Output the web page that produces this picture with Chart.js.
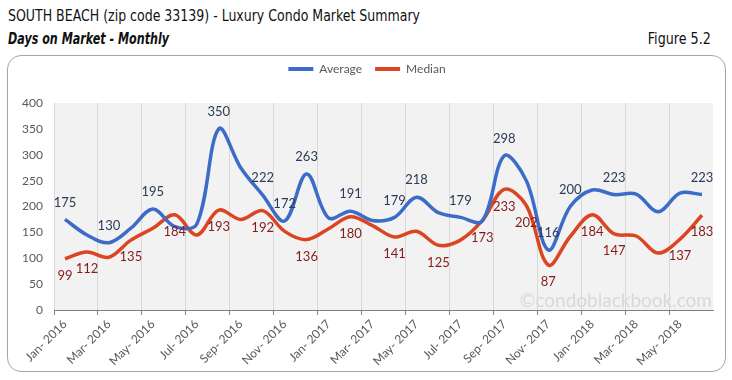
<!DOCTYPE html>
<html><head><meta charset="utf-8">
<script src="https://cdn.jsdelivr.net/npm/chart.js@4.4.0/dist/chart.umd.min.js"></script>
<style>
html,body{margin:0;padding:0;background:#fff;}
#wrap{position:relative;width:732px;height:380px;overflow:hidden;font-family:"Liberation Sans Narrow","DejaVu Sans Condensed","Liberation Sans",Arial,sans-serif;}
.tt{position:absolute;white-space:nowrap;line-height:1;color:#111;}
#t1{left:8px;top:8px;font-size:16px;transform-origin:0 0;}
#t2{left:8px;top:32px;font-size:15px;font-weight:bold;font-style:italic;transform-origin:0 0;}
#t3{right:21px;top:32px;font-size:15px;transform-origin:100% 0;}
#box{position:absolute;left:7px;top:55px;width:717px;height:315px;border:1px solid #a6a6a6;border-radius:14px;}
#c{position:absolute;left:0;top:0;width:732px;height:380px;}
</style></head>
<body><div id="wrap">
<div class="tt" id="t1">SOUTH BEACH (zip code 33139) - Luxury Condo Market Summary</div>
<div class="tt" id="t2">Days on Market - Monthly</div>
<div class="tt" id="t3">Figure 5.2</div>
<div id="box"></div>
<canvas id="c" width="732" height="380"></canvas>
</div>
<script>
// ---- data ----
const months = ['Jan- 2016','Feb- 2016','Mar- 2016','Apr- 2016','May- 2016','Jun- 2016','Jul- 2016','Aug- 2016','Sep- 2016','Oct- 2016','Nov- 2016','Dec- 2016',
  'Jan- 2017','Feb- 2017','Mar- 2017','Apr- 2017','May- 2017','Jun- 2017','Jul- 2017','Aug- 2017','Sep- 2017','Oct- 2017','Nov- 2017','Dec- 2017',
  'Jan- 2018','Feb- 2018','Mar- 2018','Apr- 2018','May- 2018','Jun- 2018'];
const averageDays = [175,145,130,158,195,161,166,350,275,222,172,263,178,191,173,179,218,188,179,172,298,250,116,200,232,223,224,190,226,223];
const medianDays  = [99,112,102,135,158,184,145,193,175,192,152,136,157,180,163,141,152,125,135,173,233,202,87,142,184,147,143,110,137,183];
const averageLabelIdx = [0,2,4,7,9,10,11,13,15,16,18,20,22,23,25,29];
const medianLabelIdx  = [0,1,3,5,7,9,11,13,15,17,19,20,21,22,24,25,28,29];
const yTicks = [0,50,100,150,200,250,300,350,400];

// fit title widths
function fit(id, w){ const el=document.getElementById(id); const r=el.getBoundingClientRect().width; el.style.transform='scaleX('+(w/r)+')'; }
fit('t1',412); fit('t2',161); fit('t3',63);

const BLUE='#3c6cc8', RED='#dc4521';

const deco = {
  id:'deco',
  beforeDraw(chart){
    const {ctx, chartArea:a} = chart;
    ctx.save(); ctx.fillStyle='#f2f2f2';
    ctx.fillRect(a.left,a.top,a.right-a.left,a.bottom-a.top); ctx.restore();
  },
  beforeDatasetsDraw(chart){
    const {ctx, chartArea:a} = chart;
    ctx.save(); ctx.font='19px Lato'; ctx.fillStyle='#d8d8d8';
    ctx.textAlign='right'; ctx.textBaseline='alphabetic';
    ctx.fillText('\u00A9condoblackbook.com', a.right-1, a.bottom-3);
    ctx.restore();
  },
  afterDatasetsDraw(chart){
    const ctx = chart.ctx;
    const specs = [{ds:0, idx:averageLabelIdx, dy:-17, color:'#2b3b58'},
                   {ds:1, idx:medianLabelIdx, dy:17, color:'#861a1a'}];
    ctx.save(); ctx.font='13px Lato'; ctx.textAlign='center'; ctx.textBaseline='middle';
    specs.forEach(s=>{
      const meta = chart.getDatasetMeta(s.ds);
      const data = chart.data.datasets[s.ds].data;
      ctx.fillStyle = s.color;
      s.idx.forEach(i=>{ const p=meta.data[i]; ctx.fillText(String(data[i]), p.x, p.y+s.dy); });
    });
    ctx.restore();
  }
};

new Chart(document.getElementById('c'), {
  type:'line',
  data:{
    labels: months,
    datasets:[
      {label:'Average', data:averageDays, borderColor:BLUE, backgroundColor:BLUE, borderWidth:3.5, pointRadius:0, tension:0.35, fill:false},
      {label:'Median', data:medianDays, borderColor:RED, backgroundColor:RED, borderWidth:3.5, pointRadius:0, tension:0.35, fill:false}
    ]
  },
  options:{
    responsive:false, animation:false, devicePixelRatio:1,
    layout:{padding:{top:50,left:21,right:19,bottom:0}},
    plugins:{
      legend:{position:'top', weight:3000,
        labels:{boxWidth:25, boxHeight:4, padding:13, color:'#595959', font:{family:'Lato', size:12},
          generateLabels(chart){ const it = Chart.defaults.plugins.legend.labels.generateLabels(chart); it.forEach(x=>{x.lineWidth=0;}); return it; }}},
      title:{display:true, text:'', padding:0, font:{size:15}},
      tooltip:{enabled:false}
    },
    scales:{
      x:{
        offset:true,
        grid:{offset:true, color:c=> c.index%2===0 ? '#d9d9d9' : 'rgba(0,0,0,0)', tickColor:c=> c.index%2===0 ? '#7f7f7f' : 'rgba(0,0,0,0)', tickLength:5},
        border:{display:true, color:'#7f7f7f', width:1},
        ticks:{autoSkip:false, maxRotation:45, minRotation:45, padding:2, color:'#595959', font:{family:'Lato', size:12},
          callback:function(v,i){ return i%2===0 ? this.getLabelForValue(v) : ''; }},
        afterFit(s){ s.height = 70; }
      },
      y:{
        min:0, max:400,
        afterBuildTicks(s){ s.ticks = yTicks.map(v=>({value:v})); },
        grid:{display:false, drawTicks:false},
        border:{display:false},
        ticks:{padding:11, color:'#595959', font:{family:'Lato', size:12}},
        afterFit(s){ s.width = 33; }
      }
    }
  },
  plugins:[deco]
});
</script>
</body></html>
